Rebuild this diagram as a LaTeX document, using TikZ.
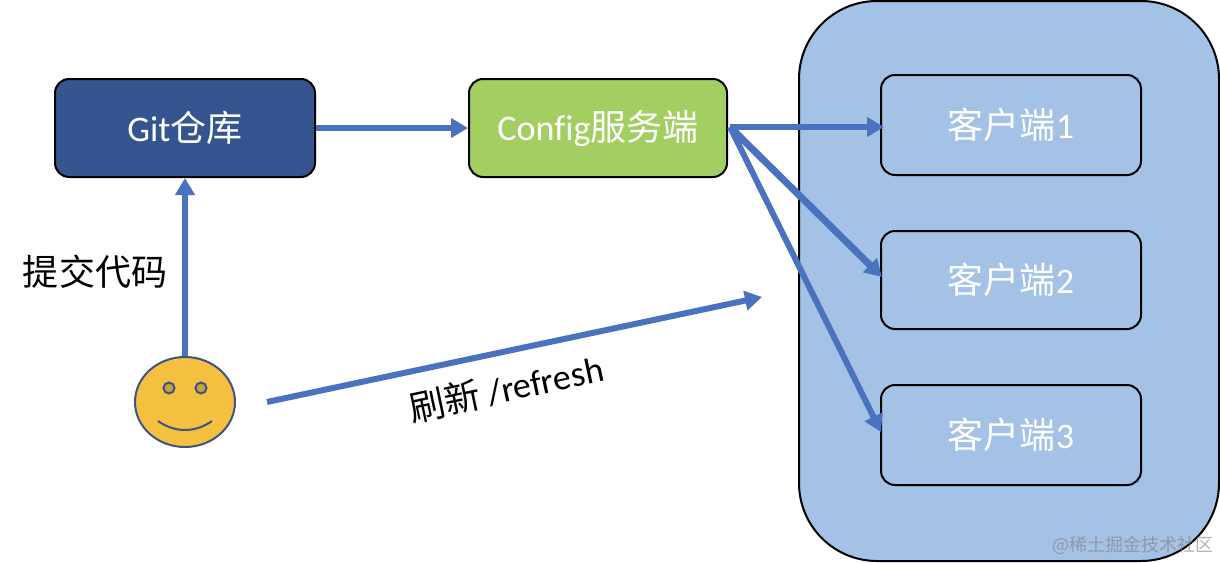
\documentclass[tikz,border=0pt]{standalone}
\usepackage{fontspec}
\setmainfont{Carlito}[Ligatures=CommonOff]
\newfontfamily\cjk{Noto Sans CJK SC}
\usetikzlibrary{arrows.meta,shapes.geometric}
\definecolor{flow}{HTML}{4A72BE}
\definecolor{panel}{HTML}{A4C2E5}
\definecolor{gitfill}{HTML}{355590}
\definecolor{cfgfill}{HTML}{A3CE62}
\definecolor{facefill}{HTML}{F5BF3F}
\definecolor{faceline}{HTML}{3D5585}
\definecolor{eyefill}{HTML}{C9A23E}
\tikzset{
  x=1pt,y=-1pt,
  boxbase/.style={rounded corners=14pt,draw=black,line width=2pt,minimum height=98pt,minimum width=258pt,inner sep=0pt,font=\fontsize{36}{42}\selectfont,text=white},
  clientbox/.style={boxbase,minimum width=260pt},
  flowline/.style={draw=flow,line width=6pt,-{Triangle[length=17pt,width=19pt]}},
}
\begin{document}
\begin{tikzpicture}
\useasboundingbox (0,0) rectangle (1220,562);
\node[draw=black,line width=2pt,fill=panel,rounded corners=78pt,minimum width=420pt,minimum height=560pt,inner sep=0pt] (panel) at (1009,281) {};
\node[boxbase,fill=gitfill,minimum width=260pt] (git) at (185,128) {Git{\cjk 仓库}};
\node[boxbase,fill=cfgfill] (cfg) at (598,128) {Config{\cjk 服务端}};
\node[clientbox,minimum height=100pt] (c1) at (1011,125) {{\cjk 客户端}1};
\node[clientbox] (c2) at (1011,280) {{\cjk 客户端}2};
\node[clientbox,minimum height=100pt] (c3) at (1011,435) {{\cjk 客户端}3};
\node[ellipse,draw=faceline,line width=2pt,fill=facefill,minimum width=100pt,minimum height=90pt,inner sep=0pt] (face) at (185,402) {};
\node[circle,draw=faceline,line width=2pt,fill=eyefill,minimum size=11pt,inner sep=0pt] (eyeL) at (169,388) {};
\node[circle,draw=faceline,line width=2pt,fill=eyefill,minimum size=11pt,inner sep=0pt] (eyeR) at (201,388) {};
\draw[faceline,line width=2pt] (158,421) .. controls (175,433) and (195,433) .. (212,421);
\coordinate (hub) at (730,127);
\coordinate (c1in) at (884,127);
\coordinate (c2in) at (882,277);
\coordinate (c3in) at (881,432);
\coordinate (refreshstart) at (267,402);
\coordinate (refreshend) at (762,297);
\draw[flowline] (git.east) -- (cfg.west);
\draw[flowline] (face.north) -- (git.south);
\draw[flowline] (hub) -- (c1in);
\draw[flowline,line width=7pt] (hub) -- (c2in);
\draw[flowline] (hub) -- (c3in);
\draw[flowline] (refreshstart) -- (refreshend);
\node[font=\cjk\fontsize{36}{42}\selectfont,text=black,inner sep=0pt] (commit) at (95,272) {提交代码};
\node[font=\fontsize{36}{42}\selectfont,text=black,inner sep=0pt,rotate=12] (refreshlabel) at (506,388) {{\cjk 刷新} /refresh};
\node[font=\cjk\fontsize{18}{21}\selectfont,text=gray,opacity=.6,inner sep=0pt,anchor=east] (mark) at (1214,545) {@稀土掘金技术社区};
\end{tikzpicture}
\end{document}
